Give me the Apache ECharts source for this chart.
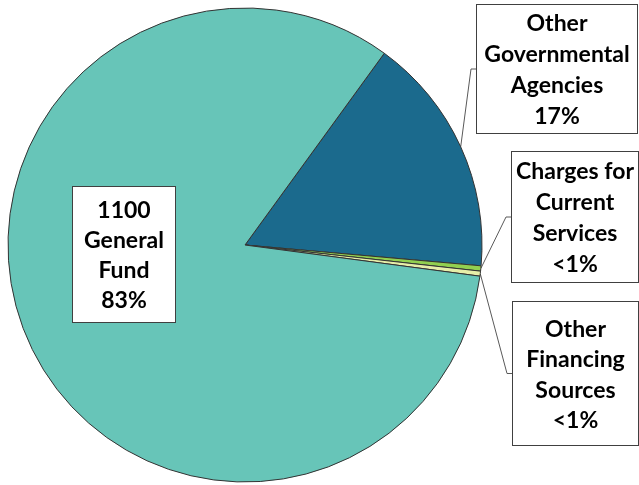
<!DOCTYPE html>
<html><head><meta charset="utf-8">
<script src="https://cdn.jsdelivr.net/npm/echarts@6/dist/echarts.min.js"></script>
<style>html,body{margin:0;padding:0;background:#fff}#c{width:639px;height:485px}</style>
</head><body><div id="c"></div>
<script>
const categories = ['Other Governmental Agencies', 'Charges for Current Services', 'Other Financing Sources', '1100 General Fund'];
const labelNames = ['Other\nGovernmental\nAgencies', 'Charges for\nCurrent\nServices', 'Other\nFinancing\nSources', '1100\nGeneral\nFund'];
const values = [16.4, 0.36, 0.34, 82.9];
const pctLabels = ['17%', '<1%', '<1%', '83%'];
const colors = ['#1B6A8D', '#92D050', '#E6EEA8', '#67C5B8'];

// label box layout: [left, top, width, height, lineHeight]
const boxes = [[477, 5, 160, 128, 31], [512, 152, 126, 130, 31], [513, 302, 125, 143, 30.5], [73, 187, 102, 135, 30]];

const chart = echarts.init(document.getElementById('c'), null, {renderer: 'canvas'});

const data = categories.map((name, i) => {
  const b = boxes[i];
  const padV = (b[3] - 4 * b[4]) / 2;
  return {
    name: name,
    value: values[i],
    itemStyle: {color: colors[i]},
    label: {
      formatter: labelNames[i] + '\n' + pctLabels[i],
      width: b[2] - 4,
      padding: [padV + 1.5, 2, padV - 1.5, 2],
      lineHeight: b[4]
    },
    labelLine: {show: i !== 3}
  };
});

chart.setOption({
  animation: false,
  series: [{
    type: 'pie',
    center: [245, 245],
    radius: [0, 237],
    startAngle: 54,
    clockwise: true,
    avoidLabelOverlap: false,
    silent: true,
    data: data,
    itemStyle: {borderColor: '#333', borderWidth: 1},
    label: {
      show: true,
      position: 'outside',
      color: '#000',
      fontFamily: 'Lato',
      fontWeight: 'bold',
      fontSize: 23,
      align: 'center',
      overflow: 'none',
      backgroundColor: '#fff',
      borderColor: '#404040',
      borderWidth: 1
    },
    labelLine: {show: true, lineStyle: {color: '#595959', width: 1}},
    labelLayout: function (params) {
      const b = boxes[params.dataIndex];
      const res = {x: b[0] + b[2] / 2, y: b[1], align: 'center', verticalAlign: 'top', hideOverlap: false, moveOverlap: false};
      if (params.dataIndex !== 3 && params.labelLinePoints) {
        const p0 = params.labelLinePoints[0];
        const ly = b[1] + b[3] / 2;
        res.labelLinePoints = [[p0[0], p0[1]], [b[0] - 6, ly], [b[0], ly]];
      }
      return res;
    }
  }]
});
</script>
</body></html>
